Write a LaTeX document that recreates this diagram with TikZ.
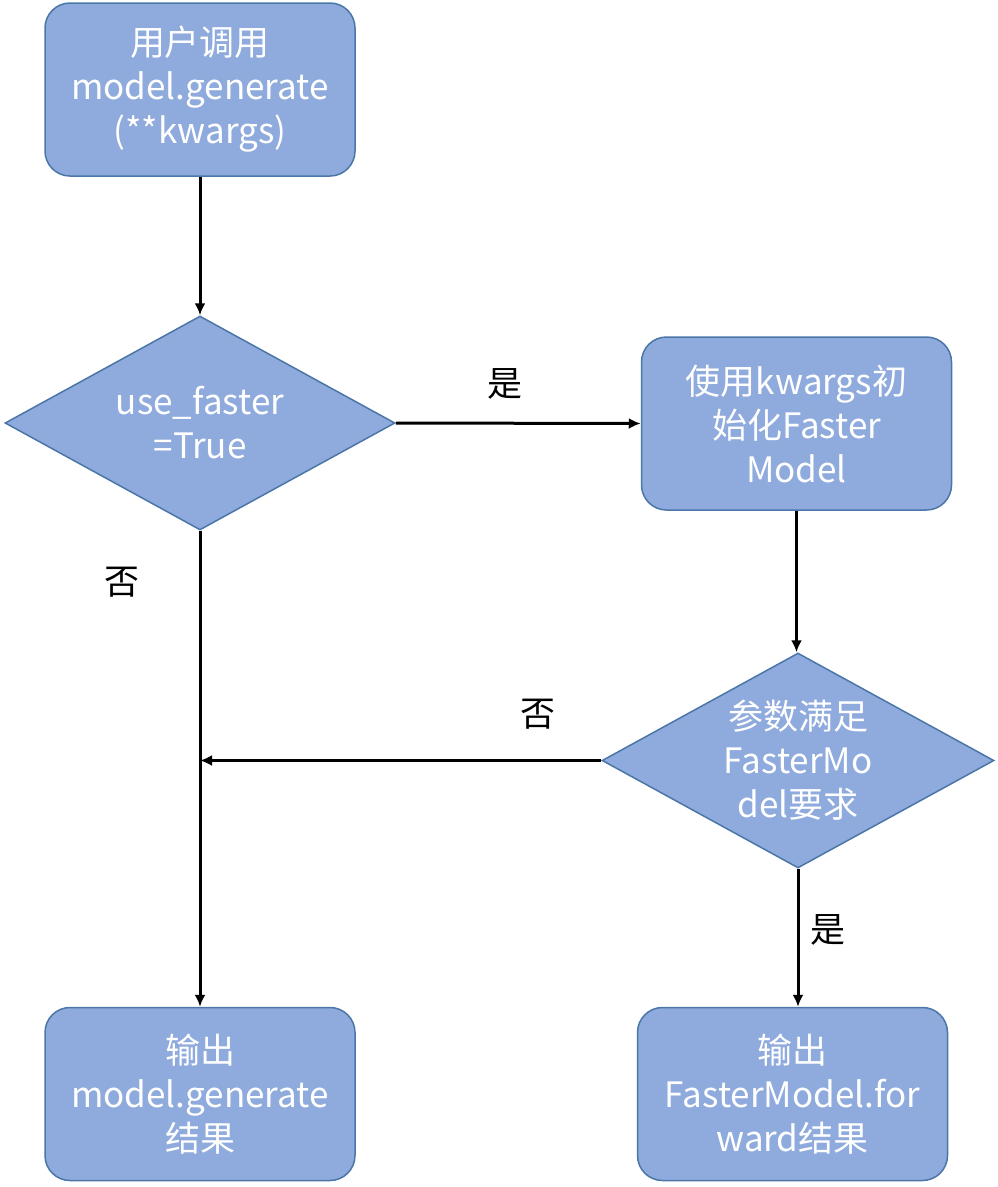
\documentclass[tikz,border=0pt]{standalone}
\usepackage{fontspec}
\setmainfont{Noto Sans CJK SC}
\usetikzlibrary{shapes.geometric,arrows.meta}
\definecolor{boxfill}{HTML}{8FAADC}
\definecolor{boxline}{HTML}{4A76A8}
\tikzset{
  procbox/.style={rectangle, rounded corners=25pt, fill=boxfill, draw=boxline, line width=1.5pt,
    minimum width=310pt, minimum height=173pt, align=center, text=white,
    font=\fontsize{35}{44}\selectfont, inner sep=0pt},
  decbox/.style={diamond, fill=boxfill, draw=boxline, line width=1.5pt,
    minimum width=390pt, minimum height=214pt, inner sep=0pt},
  dectext/.style={align=center, text=white, font=\fontsize{35}{44}\selectfont, inner sep=0pt},
  conn/.style={line width=3pt, -{Latex[length=12pt,width=11pt]}},
  lbl/.style={font=\fontsize{35}{40}\selectfont, text=black, inner sep=0pt}
}
\begin{document}
\begin{tikzpicture}[x=1pt,y=-1pt]
\useasboundingbox (0,0) rectangle (997,1187);
\node[procbox] (b1) at (200,89.5) {用户调用\\model.generate\\(**kwargs)};
\node[decbox] (d1) at (200,423) {};
\node[dectext] (t1) at (d1.center) {use\_faster\\=True};
\node[procbox] (b2) at (796.5,423.5) {使用kwargs初\\始化Faster\\Model};
\node[decbox, minimum width=392pt, minimum height=215pt] (d2) at (798,760.5) {};
\node[dectext] (t2) at (d2.center) {参数满足\\FasterMo\\del要求};
\node[procbox] (b3) at (200,1094) {输出\\model.generate\\结果};
\node[procbox] (b4) at (792.5,1094) {输出\\FasterModel.for\\ward结果};
\coordinate (j) at (d1.south |- d2.west);
\draw[conn] (b1.south) -- (d1.north);
\draw[conn] (d1.east) -- (b2.west);
\draw[conn] (b2.south) -- (b2.south |- d2.north);
\draw[conn] (d2.west) -- (j);
\draw[conn] (d1.south) -- (b3.north);
\draw[conn] (d2.south) -- (d2.south |- b4.north);
\node[lbl] (l1) at (505,384) {是};
\node[lbl] (l2) at (122,582) {否};
\node[lbl] (l3) at (538,714) {否};
\node[lbl] (l4) at (828,930) {是};
\end{tikzpicture}
\end{document}
